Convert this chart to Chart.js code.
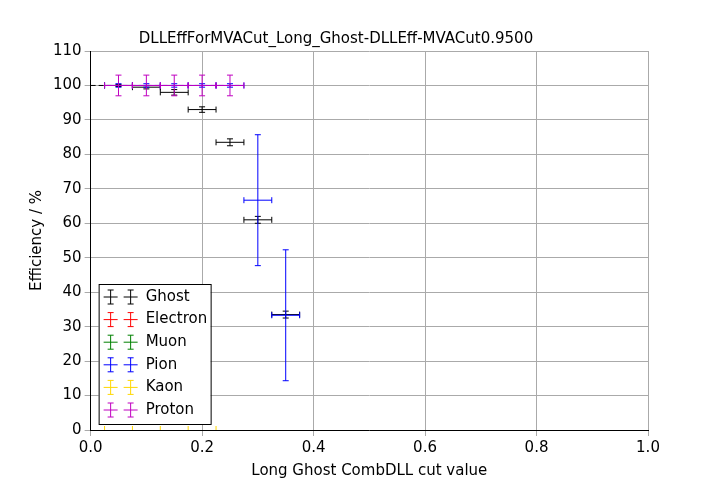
<!DOCTYPE html><html><head><script src="https://cdn.jsdelivr.net/npm/chart.js@4"></script>
<style>body{margin:0;background:#fff}#w{width:720px;height:504px}</style></head><body><div id="w"><canvas id="c"></canvas></div>
<script>
const ghostX=[0.05,0.1,0.15,0.2,0.25,0.3,0.35];
const ghostY=[100,99.5,98,93,83.5,61,33.5];
const ghostErr=[0.3,0.5,0.8,0.8,1,1,1];
const pionX=[0.05,0.1,0.15,0.2,0.25,0.3,0.35];
const pionY=[100,100,100,100,100,66.7,33.3];
const pionErr=[0.5,0.5,0.5,0.5,0.5,19,19];
const protonX=[0.05,0.1,0.15,0.2,0.25];
const protonY=[100,100,100,100,100];
const protonErr=[3,3,3,3,3];
const kaonX=[0.025,0.075,0.125,0.175,0.225];
const kaonY=[0,0,0,0,0];
const xErr=0.025;
function mk(label,xs,ys,es,color,tick){return{label,tick,data:xs.map((x,i)=>({x,y:ys[i],e:es?es[i]:0})),borderColor:color,backgroundColor:color,pointRadius:0,showLine:false};}
const ds=[mk('Ghost',ghostX,ghostY,ghostErr,'#000'),mk('Electron',[],[],[],'#ff0000'),mk('Muon',[],[],[],'#008000'),
mk('Pion',pionX,pionY,pionErr,'#0000ff'),mk('Kaon',kaonX,kaonY,[0,0,0,0,0],'#ffd700',true),mk('Proton',protonX,protonY,protonErr,'#c000c0')];
const eb={id:'eb',afterDatasetsDraw(ch){const c=ch.ctx,xs=ch.scales.x,ys=ch.scales.y;
c.save();c.setLineDash([5,3]);c.strokeStyle='#000';c.lineWidth=1;c.beginPath();c.moveTo(xs.getPixelForValue(0),ys.getPixelForValue(100));c.lineTo(xs.getPixelForValue(0.275),ys.getPixelForValue(100));c.stroke();c.setLineDash([]);
ch.data.datasets.forEach(d=>{c.strokeStyle=d.borderColor;d.data.forEach(p=>{const xm=xs.getPixelForValue(p.x),y=ys.getPixelForValue(p.y);
if(d.tick){c.beginPath();c.moveTo(xm,y);c.lineTo(xm,y-4);c.stroke();return;}
const x0=xs.getPixelForValue(p.x-xErr),x1=xs.getPixelForValue(p.x+xErr),yt=ys.getPixelForValue(p.y+p.e),yb=ys.getPixelForValue(Math.max(0,p.y-p.e));
c.beginPath();c.moveTo(x0,y);c.lineTo(x1,y);c.moveTo(x0,y-3);c.lineTo(x0,y+3);c.moveTo(x1,y-3);c.lineTo(x1,y+3);c.moveTo(xm,yt);c.lineTo(xm,yb);c.moveTo(xm-3,yt);c.lineTo(xm+3,yt);c.moveTo(xm-3,yb);c.lineTo(xm+3,yb);c.stroke();});});
const L=ch.chartArea.left+8,T=ys.getPixelForValue(0)-146;c.fillStyle='#fff';c.fillRect(L,T,112,140);c.strokeStyle='#000';c.strokeRect(L+.5,T+.5,112,140);
c.font='15px "DejaVu Sans"';c.textBaseline='middle';ch.data.datasets.forEach((d,i)=>{const y=T+13+i*22.6;c.strokeStyle=d.borderColor;[L+12,L+32].forEach(x=>{c.beginPath();c.moveTo(x-7,y);c.lineTo(x+7,y);c.moveTo(x,y-7);c.lineTo(x,y+7);c.moveTo(x-3,y-7);c.lineTo(x+3,y-7);c.moveTo(x-3,y+7);c.lineTo(x+3,y+7);c.stroke();});c.fillStyle='#000';c.fillText(d.label,L+47,y);});
c.restore();}};
new Chart(document.getElementById('c'),{type:'scatter',data:{datasets:ds},plugins:[eb],options:{responsive:true,maintainAspectRatio:false,animation:false,
layout:{padding:{left:24,right:72,top:30,bottom:20}},
plugins:{legend:{display:false},tooltip:{enabled:false},title:{display:true,text:'DLLEffForMVACut_Long_Ghost-DLLEff-MVACut0.9500',color:'#000',font:{family:'DejaVu Sans',size:15,weight:'normal'},padding:{top:0,bottom:3}}},
scales:{x:{min:0,max:1,ticks:{stepSize:0.2,color:'#000',font:{family:'DejaVu Sans',size:15},callback:v=>v.toFixed(1)},grid:{color:'#aaa',borderDash:[2,3],tickLength:6},border:{color:'#000'},title:{display:true,text:'Long Ghost CombDLL cut value',color:'#000',font:{family:'DejaVu Sans',size:15},padding:{top:2}}},
y:{min:0,max:110,ticks:{stepSize:10,color:'#000',font:{family:'DejaVu Sans',size:15}},grid:{color:'#aaa',borderDash:[2,3],tickLength:6},border:{color:'#000'},title:{display:true,text:'Efficiency / %',color:'#000',font:{family:'DejaVu Sans',size:15}}}}}});
</script></body></html>
